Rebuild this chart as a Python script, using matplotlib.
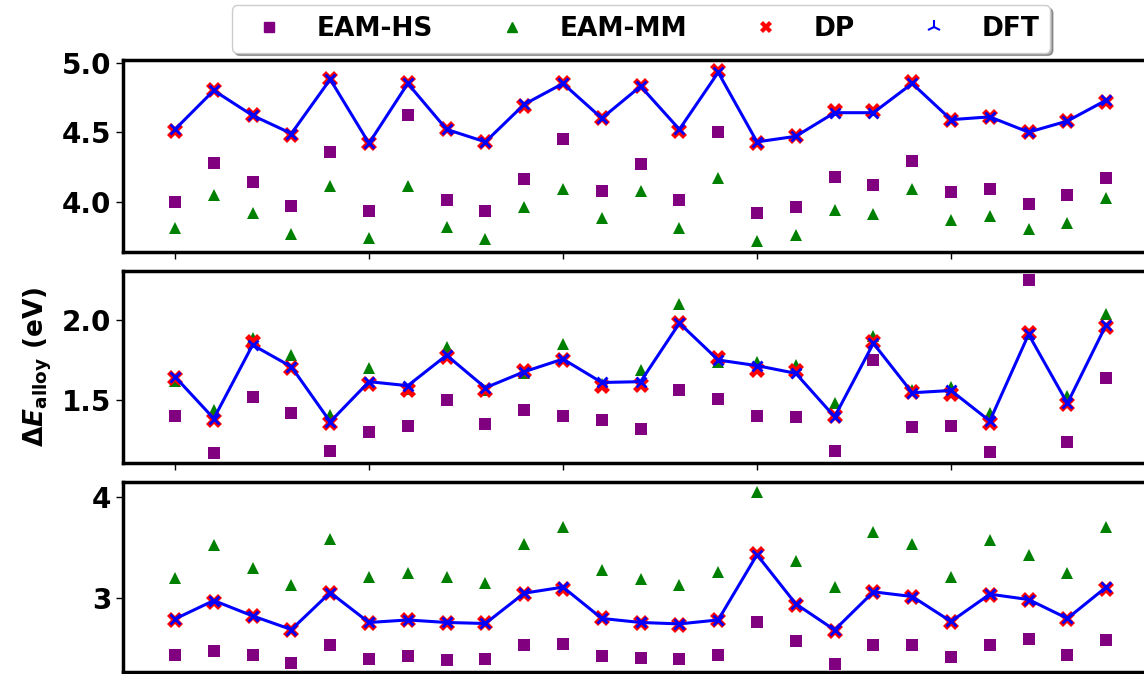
import matplotlib
matplotlib.use('Agg')
import matplotlib.pyplot as plt
from matplotlib.lines import Line2D

# alloy index (25 compositions) shared by all three panels
idx = list(range(25))

# panel 1
hs1 = [4.00, 4.28, 4.14, 3.97, 4.36, 3.93, 4.62, 4.01, 3.93, 4.16, 4.45, 4.08, 4.27,
       4.01, 4.50, 3.92, 3.96, 4.18, 4.12, 4.29, 4.07, 4.09, 3.98, 4.05, 4.17]
mm1 = [3.81, 4.05, 3.92, 3.77, 4.11, 3.74, 4.11, 3.82, 3.73, 3.96, 4.09, 3.88, 4.08,
       3.81, 4.17, 3.72, 3.76, 3.94, 3.91, 4.09, 3.87, 3.90, 3.80, 3.85, 4.03]
dp1 = [4.51, 4.80, 4.62, 4.48, 4.88, 4.42, 4.85, 4.52, 4.43, 4.69, 4.85, 4.60, 4.83,
       4.51, 4.94, 4.42, 4.47, 4.65, 4.65, 4.86, 4.59, 4.61, 4.50, 4.58, 4.72]
dft1 = [4.52, 4.80, 4.62, 4.49, 4.88, 4.42, 4.85, 4.52, 4.43, 4.70, 4.85, 4.60, 4.83,
        4.52, 4.93, 4.43, 4.47, 4.64, 4.64, 4.85, 4.59, 4.61, 4.50, 4.58, 4.73]

# panel 2
hs2 = [1.40, 1.17, 1.52, 1.42, 1.18, 1.30, 1.34, 1.50, 1.35, 1.44, 1.40, 1.375, 1.32,
       1.56, 1.51, 1.40, 1.395, 1.18, 1.75, 1.335, 1.337, 1.175, 2.246, 1.237, 1.64]
mm2 = [1.62, 1.44, 1.89, 1.78, 1.41, 1.70, 1.57, 1.83, 1.56, 1.67, 1.85, 1.60, 1.69,
       2.10, 1.74, 1.74, 1.72, 1.48, 1.90, 1.56, 1.58, 1.42, 1.91, 1.525, 2.04]
dp2 = [1.64, 1.375, 1.86, 1.70, 1.36, 1.60, 1.56, 1.77, 1.56, 1.68, 1.75, 1.59, 1.595,
       1.98, 1.76, 1.69, 1.68, 1.40, 1.865, 1.55, 1.54, 1.36, 1.917, 1.475, 1.955]
dft2 = [1.646, 1.385, 1.844, 1.708, 1.365, 1.615, 1.59, 1.78, 1.577, 1.677, 1.756, 1.61,
        1.615, 1.98, 1.75, 1.715, 1.667, 1.396, 1.854, 1.546, 1.56, 1.37, 1.91, 1.48, 1.97]

# panel 3
hs3 = [2.436, 2.48, 2.44, 2.36, 2.535, 2.40, 2.43, 2.39, 2.40, 2.54, 2.548, 2.43, 2.41,
       2.40, 2.436, 2.766, 2.574, 2.35, 2.535, 2.54, 2.42, 2.54, 2.60, 2.44, 2.587]
mm3 = [3.20, 3.53, 3.30, 3.13, 3.59, 3.21, 3.25, 3.21, 3.15, 3.54, 3.70, 3.28, 3.195,
       3.13, 3.26, 4.05, 3.37, 3.11, 3.66, 3.54, 3.21, 3.58, 3.43, 3.25, 3.70]
dp3 = [2.785, 2.965, 2.82, 2.685, 3.05, 2.755, 2.785, 2.755, 2.75, 3.045, 3.095, 2.80,
       2.755, 2.74, 2.78, 3.435, 2.935, 2.68, 3.06, 3.01, 2.765, 3.035, 2.98, 2.795, 3.09]
dft3 = [2.795, 2.977, 2.825, 2.69, 3.056, 2.76, 2.785, 2.76, 2.75, 3.05, 3.11, 2.80,
        2.76, 2.746, 2.785, 3.43, 2.944, 2.686, 3.063, 3.017, 2.77, 3.04, 2.987, 2.80, 3.11]

panels = [(hs1, mm1, dp1, dft1), (hs2, mm2, dp2, dft2), (hs3, mm3, dp3, dft3)]
ylims = [(3.638, 5.019), (1.108, 2.305), (2.27, 4.15)]
yticks = [[4.0, 4.5, 5.0], [1.5, 2.0], [3, 4]]
yticklabels = [['4.0', '4.5', '5.0'], ['1.5', '2.0'], ['3', '4']]

W, H = 1144, 674
fig = plt.figure(figsize=(W / 100, H / 100), dpi=100)

# axes boxes in pixels (top, bottom); right edge runs past the figure
boxes = [(60, 252), (271, 463), (482, 672)]
left_px = 123
xlo, xhi = -1.34, 25.66
px_per_unit = 38.8
width_px = (xhi - xlo) * px_per_unit

axes = []
for k, (top, bot) in enumerate(boxes):
    ax = fig.add_axes([left_px / W, 1 - bot / H, width_px / W, (bot - top) / H])
    hs, mm, dp, dft = panels[k]
    ax.plot(idx, hs, linestyle='None', marker='s', markersize=8.5,
            color='purple', markeredgewidth=0)
    ax.plot(idx, mm, linestyle='None', marker='^', markersize=9,
            color='green', markeredgewidth=0)
    ax.plot(idx, dp, linestyle='None', marker='X', markersize=11.5,
            color='red', markeredgewidth=0)
    ax.plot(idx, dft, color='blue', linewidth=2.2, marker='x',
            markersize=7.5, markeredgewidth=2)
    ax.set_xlim(xlo, xhi)
    ax.set_ylim(*ylims[k])
    ax.set_xticks([0, 5, 10, 15, 20, 25])
    ax.set_xticklabels([])
    ax.set_yticks(yticks[k])
    ax.set_yticklabels(yticklabels[k], fontsize=20, fontweight='bold')
    ax.tick_params(length=5, width=1)
    for sp in ax.spines.values():
        sp.set_linewidth(2.5)
    axes.append(ax)

axes[1].set_ylabel(r'$\mathbf{\Delta}\boldsymbol{E}_{\mathbf{alloy}}$ (eV)',
                   fontsize=19, fontweight='bold')
axes[1].yaxis.set_label_coords(-0.066, 0.5)

handles = [
    Line2D([], [], linestyle='None', marker='s', markersize=7, color='purple'),
    Line2D([], [], linestyle='None', marker='^', markersize=7, color='green'),
    Line2D([], [], linestyle='None', marker='X', markersize=9, color='red',
           markeredgewidth=0),
    Line2D([], [], linestyle='None', marker='2', markersize=10, color='blue',
           markeredgewidth=1.5),
]
labels = ['EAM-HS', 'EAM-MM', 'DP', 'DFT']
fig.legend(handles, labels, loc='center', bbox_to_anchor=(641 / W, 1 - 29 / H),
           ncol=4, shadow=True, prop={'size': 19, 'weight': 'bold'})

fig.savefig('out.png', dpi=100)
